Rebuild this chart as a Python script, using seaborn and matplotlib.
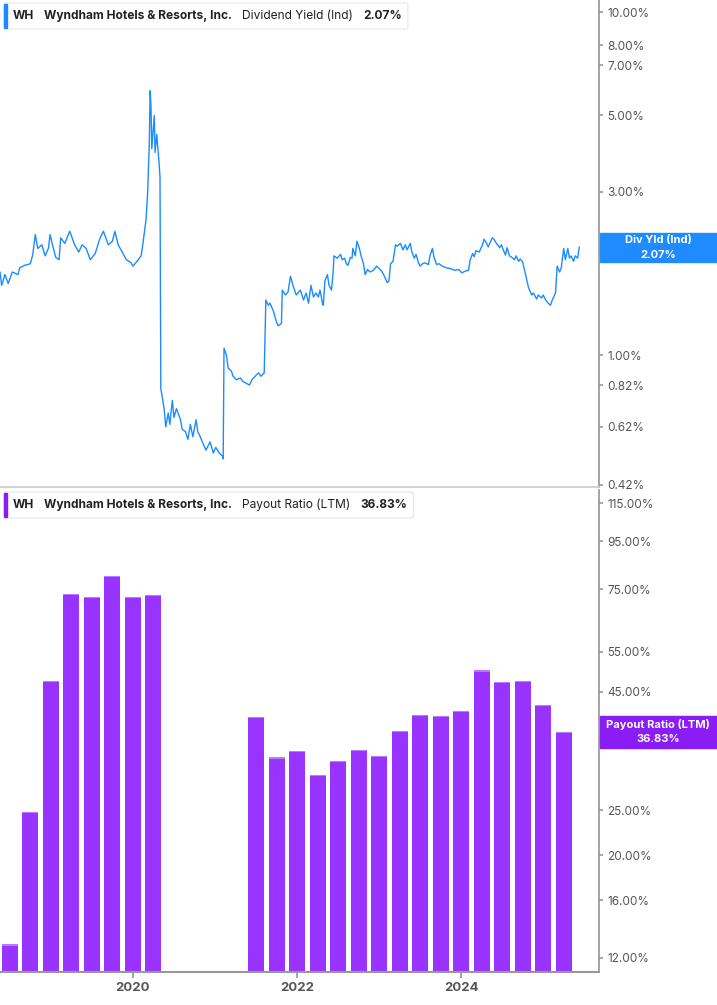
import matplotlib
matplotlib.use("Agg")
import matplotlib.pyplot as plt
import matplotlib.ticker as mt
from matplotlib.patches import Rectangle, FancyBboxPatch
import seaborn as sns
import pandas as pd

sns.set_theme(style="white", font="Inter")

yield_dates = [2018.38,2018.40,2018.44,2018.48,2018.53,2018.60,2018.62,2018.68,2018.75,2018.78,2018.81,2018.84,2018.89,2018.93,2018.97,2018.99,
2019.03,2019.06,2019.10,2019.12,2019.17,2019.23,2019.29,2019.34,2019.38,2019.43,2019.48,2019.54,2019.60,2019.64,2019.70,2019.75,2019.78,2019.82,2019.87,2019.92,2019.98,
2020.00,2020.05,2020.10,2020.12,2020.16,2020.18,2020.20,2020.21,2020.22,2020.23,2020.26,2020.27,2020.29,2020.32,2020.33,2020.34,2020.36,2020.38,2020.40,2020.43,2020.45,2020.48,2020.50,2020.53,2020.55,2020.58,2020.60,2020.64,2020.67,2020.70,2020.73,2020.77,2020.79,2020.82,2020.86,2020.89,2020.94,2020.98,
2021.01,2021.05,2021.09,2021.10,2021.11,2021.14,2021.16,2021.20,2021.22,2021.26,2021.31,2021.34,2021.38,2021.42,2021.45,2021.49,2021.53,2021.56,2021.60,2021.62,2021.65,2021.67,2021.71,2021.75,2021.77,2021.81,2021.82,2021.86,2021.89,2021.92,2021.95,2021.99,
2022.04,2022.08,2022.11,2022.14,2022.17,2022.20,2022.23,2022.26,2022.28,2022.31,2022.32,2022.34,2022.37,2022.39,2022.42,2022.44,2022.45,2022.49,2022.53,2022.55,2022.58,2022.60,2022.62,2022.65,2022.67,2022.68,2022.71,2022.73,2022.76,2022.78,2022.81,2022.83,2022.86,2022.89,2022.93,2022.97,2022.99,
2023.03,2023.05,2023.08,2023.10,2023.12,2023.14,2023.17,2023.20,2023.22,2023.26,2023.29,2023.32,2023.34,2023.38,2023.40,2023.43,2023.45,2023.48,2023.50,2023.53,2023.56,2023.60,2023.62,2023.65,2023.67,2023.70,2023.73,2023.77,2023.82,2023.87,2023.92,2023.97,
2024.01,2024.05,2024.09,2024.11,2024.14,2024.16,2024.18,2024.22,2024.26,2024.28,2024.31,2024.33,2024.36,2024.38,2024.40,2024.43,2024.47,2024.49,2024.51,2024.54,2024.56,2024.59,2024.62,2024.65,2024.67,2024.70,2024.72,2024.75,2024.77,2024.79,2024.82,2024.86,2024.88,2024.92,2024.94,2024.98,
2025.00,2025.03,2025.06,2025.09,2025.11,2025.15,2025.17,2025.20,2025.22,2025.25,2025.27,2025.30,2025.32,2025.34,2025.37,2025.39,2025.42,2025.44]
yield_values = [1.75,1.60,1.72,1.62,1.75,1.72,1.80,1.83,1.85,1.97,2.25,2.05,2.10,1.95,2.05,2.25,
2.05,1.93,1.90,2.20,2.12,2.30,2.10,2.00,2.10,2.05,1.90,1.98,2.20,2.30,2.10,2.15,2.30,2.10,2.00,1.90,1.86,
1.82,1.88,1.95,2.10,2.49,3.00,4.20,5.90,5.30,4.00,5.00,3.90,4.40,3.60,3.30,0.80,0.75,0.70,0.62,0.68,0.63,0.74,0.66,0.70,0.68,0.65,0.61,0.60,0.57,0.63,0.58,0.65,0.60,0.58,0.55,0.53,0.56,0.52,
0.54,0.52,0.51,0.50,1.05,1.00,0.92,0.90,0.87,0.85,0.86,0.84,0.83,0.82,0.85,0.87,0.89,0.87,0.89,1.45,1.40,1.42,1.35,1.25,1.22,1.24,1.55,1.50,1.53,1.70,1.60,1.50,
1.55,1.45,1.52,1.42,1.60,1.48,1.52,1.48,1.55,1.42,1.40,1.65,1.72,1.60,1.55,1.75,1.95,1.92,1.97,1.90,1.92,1.85,1.83,1.93,1.92,2.05,1.95,2.15,2.05,1.95,1.85,1.72,1.78,1.75,1.77,1.82,1.80,
1.76,1.73,1.67,1.63,1.65,1.85,1.88,2.10,2.08,2.12,2.03,2.10,2.03,2.12,2.00,1.92,1.97,1.86,1.82,1.85,1.86,1.84,1.95,2.05,1.93,1.84,1.85,1.82,1.80,1.79,1.77,1.78,
1.74,1.76,1.77,1.90,1.98,1.94,2.02,2.00,2.10,2.18,2.12,2.07,2.15,2.20,2.18,2.12,2.06,2.10,2.04,1.96,2.06,1.95,1.93,1.90,1.95,1.88,1.91,1.87,1.78,1.70,1.58,1.50,1.52,1.46,1.50,1.47,
1.50,1.45,1.42,1.40,1.45,1.52,1.82,1.75,1.80,2.05,1.90,2.05,1.92,1.95,1.88,1.95,1.92,2.07]

payout_dates = [2018.50,2018.75,2019.00,2019.25,2019.50,2019.75,2020.00,2020.25,
                2021.50,2021.75,2022.00,2022.25,2022.50,2022.75,2023.00,2023.25,2023.50,2023.75,2024.00,2024.25,2024.50,2024.75,2025.00,2025.25]
payout_values = [12.8,24.7,47.4,73.0,72.0,79.8,71.8,72.6,
                 39.7,32.4,33.5,29.7,31.8,33.6,32.6,36.9,40.0,39.8,40.8,49.9,47.2,47.4,42.1,36.83]

yield_ticks = [0.42,0.62,0.82,1.00,2.00,3.00,5.00,7.00,8.00,10.00]
payout_ticks = [12,16,20,25,35,45,55,75,95,115]
year_ticks = [2020,2022,2024]

BLUE = "#1a8cff"
PURPLE = "#9933ff"
GRAY = "#555555"

fig = plt.figure(figsize=(7.17,10.05), dpi=100)
ax1 = fig.add_axes([0, 1-487/1005, 599/717, 487/1005])
ax2 = fig.add_axes([0, 1-972/1005, 599/717, 482/1005])

df1 = pd.DataFrame({"d": yield_dates, "v": yield_values})
sns.lineplot(data=df1, x="d", y="v", ax=ax1, color=BLUE, lw=1.0)
ax1.set_yscale("log")
ax1.set_ylim(0.414, 10.84)

ax2.bar(payout_dates, payout_values, width=0.195, color=PURPLE, edgecolor="none", linewidth=0)
ax2.bar(payout_dates, [v*0.006 for v in payout_values], bottom=[v*0.997 for v in payout_values],
        width=0.195, color="#b77bff", edgecolor="none", linewidth=0)
ax2.set_yscale("log")
ax2.set_ylim(11.19, 122.7)

for ax, ticks in ((ax1, yield_ticks), (ax2, payout_ticks)):
    ax.set_xlim(2018.38, 2025.68)
    ax.set_xlabel(""); ax.set_ylabel("")
    ax.yaxis.tick_right()
    ax.yaxis.set_minor_locator(mt.NullLocator())
    ax.set_yticks(ticks)
    ax.yaxis.set_major_formatter(mt.FuncFormatter(lambda v, p: f"{v:.2f}%"))
    ax.tick_params(axis="y", right=True, length=3, color="#999999", labelsize=8.5, labelcolor=GRAY, pad=3)
    for s in ("top", "left"):
        ax.spines[s].set_visible(False)
    ax.spines["right"].set_color("#999999")
    ax.patch.set_alpha(0)

ax1.spines["bottom"].set_color("#cccccc")
ax1.set_xticks([])
ax2.spines["bottom"].set_color("#999999")
ax2.spines["bottom"].set_linewidth(1.5)
ax2.set_xticks(year_ticks)
ax2.set_xticklabels([str(y) for y in year_ticks])
ax2.tick_params(axis="x", bottom=True, length=4, color="#999999", labelsize=9.5, labelcolor=GRAY)
for t in ax2.get_xticklabels():
    t.set_fontweight("bold")

fig.canvas.draw()
renderer = fig.canvas.get_renderer()

def header(y_px, bar_color, parts):
    y = 1 - y_px/1005
    x = 13
    for text, weight, gap in parts:
        t = fig.text(x/717, y, text, fontsize=8.6, fontweight=weight, va="center", color="#222222", zorder=4)
        w = t.get_window_extent(renderer).width
        x += w + gap
    fig.patches.append(FancyBboxPatch((4/717, y-13/1005), (x-4+6)/717, 26/1005,
                       boxstyle="round,pad=0,rounding_size=0.003", transform=fig.transFigure,
                       fc="white", ec="#e6e6e6", lw=0.8, zorder=3))
    fig.patches.append(Rectangle((4/717, y-12/1005), 3/717, 24/1005, transform=fig.transFigure,
                                 color=bar_color, zorder=3.5))

header(16, BLUE, [("WH", "bold", 10), ("Wyndham Hotels & Resorts, Inc.", "bold", 10),
                  ("Dividend Yield (Ind)", "normal", 10), ("2.07%", "bold", 0)])
header(505, "#8a1cf5", [("WH", "bold", 10), ("Wyndham Hotels & Resorts, Inc.", "bold", 10),
                        ("Payout Ratio (LTM)", "normal", 10), ("36.83%", "bold", 0)])

def tag(y_top, y_bot, color, line1, line2):
    fig.patches.append(Rectangle((600/717, 1-y_bot/1005), 117/717, (y_bot-y_top)/1005,
                       transform=fig.transFigure, color=color, zorder=5))
    yc = 1 - (y_top+y_bot)/2/1005
    fig.text(658/717, yc+7/1005, line1, color="white", fontsize=8, fontweight="bold", ha="center", va="center", zorder=6)
    fig.text(658/717, yc-7/1005, line2, color="white", fontsize=8, fontweight="bold", ha="center", va="center", zorder=6)

tag(233, 262, "#1e8cff", "Div Yld (Ind)", "2.07%")
tag(716, 748, "#8a1cf5", "Payout Ratio (LTM)", "36.83%")

fig.savefig("out.png", dpi=100, facecolor="white")
